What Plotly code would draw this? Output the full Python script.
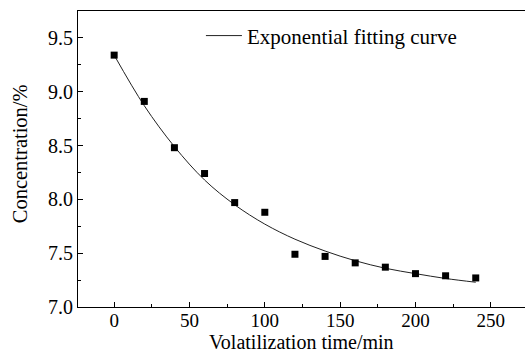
import plotly.graph_objects as go

# Measured concentration during volatilization
time_min = [0, 20, 40, 60, 80, 100, 120, 140, 160, 180, 200, 220, 240]
concentration = [9.34, 8.91, 8.48, 8.24, 7.97, 7.88, 7.49, 7.47, 7.41, 7.37, 7.31, 7.29, 7.27]

# Exponential fitting curve sampled every 20 min
fit_time = [0, 20, 40, 60, 80, 100, 120, 140, 160, 180, 200, 220, 240]
fit_conc = [9.34, 8.87, 8.49, 8.18, 7.95, 7.77, 7.63, 7.52, 7.43, 7.36, 7.31, 7.265, 7.23]

FONT = "Liberation Serif, Times New Roman, serif"

fig = go.Figure()
fig.add_trace(go.Scatter(
    x=fit_time, y=fit_conc, mode="lines", line=dict(color="#222222", width=1, shape="spline"),
    name="Exponential fitting curve", showlegend=True,
))
fig.add_trace(go.Scatter(
    x=time_min, y=concentration, mode="markers",
    marker=dict(symbol="square", size=7, color="black"),
    showlegend=False,
))

fig.update_layout(
    width=525, height=354,
    margin=dict(l=78, r=0, t=11, b=47),
    plot_bgcolor="white", paper_bgcolor="white",
    font=dict(family=FONT, size=20, color="black"),
    legend=dict(x=0.275, y=0.985, xanchor="left", yanchor="top",
                bgcolor="rgba(0,0,0,0)", font=dict(size=21, family=FONT),
                itemwidth=36),
    showlegend=True,
)
fig.update_xaxes(
    range=[-24, 272.7], tickvals=[0, 50, 100, 150, 200, 250],
    ticks="inside", ticklen=5, tickwidth=1, tickcolor="black",
    minor=dict(dtick=25, tick0=0, ticks="inside", ticklen=3, tickcolor="black"),
    showline=True, linecolor="black", linewidth=1, mirror=True,
    showgrid=False, zeroline=False,
    tickfont=dict(size=19, family=FONT), ticklabelstandoff=-4,
)
fig.update_yaxes(
    range=[7.0, 9.75], tickvals=[7.0, 7.5, 8.0, 8.5, 9.0, 9.5], tickformat=".1f",
    ticks="inside", ticklen=5, tickwidth=1, tickcolor="black",
    minor=dict(dtick=0.25, tick0=7.0, ticks="inside", ticklen=3, tickcolor="black"),
    showline=True, linecolor="black", linewidth=1, mirror=False,
    showgrid=False, zeroline=False,
    tickfont=dict(size=20, family=FONT),
)

# Axis titles placed as annotations for precise positioning
fig.add_annotation(text="Volatilization time/min", xref="paper", yref="paper",
                   x=0.501, y=-0.1588, xanchor="center", yanchor="bottom",
                   showarrow=False, font=dict(size=20, family=FONT),
                   borderpad=0)
fig.add_annotation(text="Concentration/%", xref="paper", yref="paper",
                   x=-0.13, y=0.519, xanchor="center", yanchor="middle", textangle=-90,
                   showarrow=False, font=dict(size=20.5, family=FONT))

fig.write_html("out.html")
